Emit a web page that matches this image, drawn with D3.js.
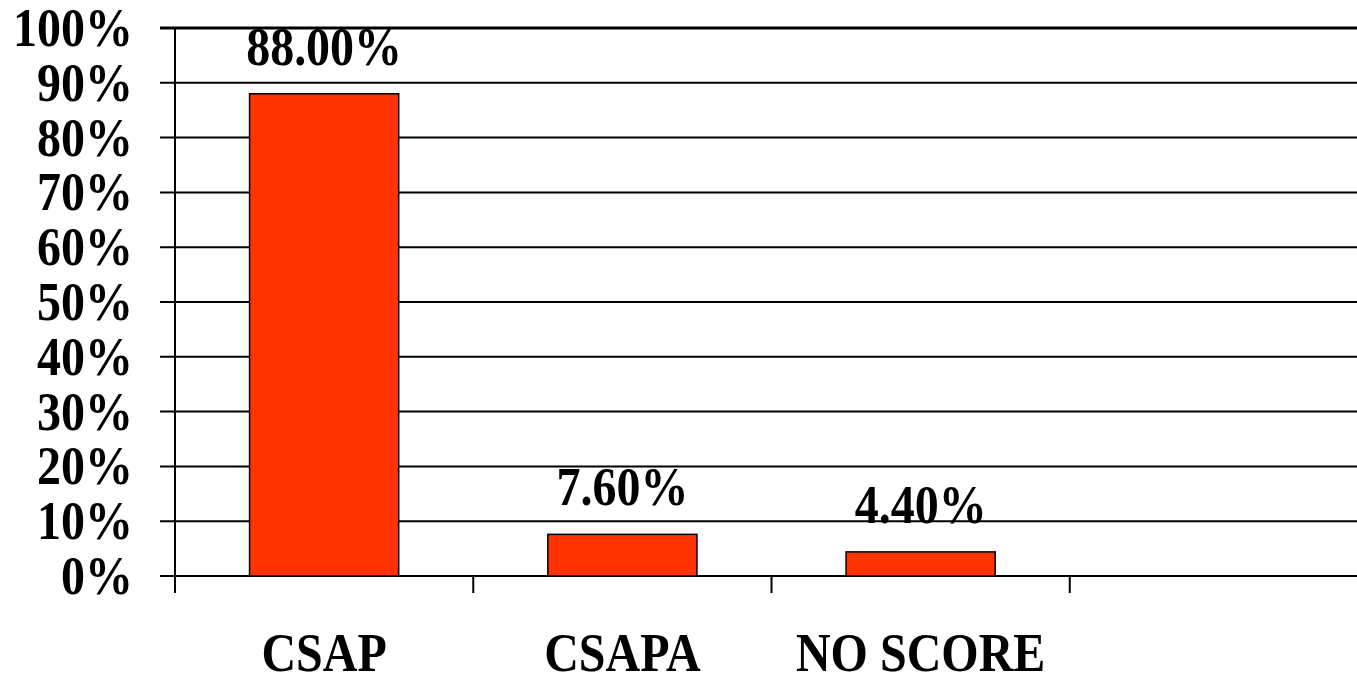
<!DOCTYPE html>
<html>
<head>
<meta charset="utf-8">
<script src="https://cdnjs.cloudflare.com/ajax/libs/d3/7.8.5/d3.min.js"></script>
<style>
  body { margin: 0; background: #fff; }
  svg text { font-family: "Liberation Serif", "Times New Roman", serif; font-weight: bold; fill: #000; }
</style>
</head>
<body>
<div id="chart"></div>
<script>
// data
var categories = ["CSAP", "CSAPA", "NO SCORE", ""];
var values = [88.0, 7.6, 4.4, null];
var yTicks = [0, 10, 20, 30, 40, 50, 60, 70, 80, 90, 100];

var chart = {
    svgWidth: 1357,
    svgHeight: 675,
    margin: {"top": 28, "bottom": 99, "left": 175, "right": -11},
    stretch: 1.15   // the reference text looks vertically stretched
};

chart.svg = d3.select("#chart").append("svg")
    .attr("width", chart.svgWidth)
    .attr("height", chart.svgHeight);

var svg = chart.svg;

chart.yScale = d3.scaleLinear()
    .domain([0, 100])
    .range([chart.svgHeight - chart.margin.bottom, chart.margin.top]);

chart.xScale = d3.scaleBand()
    .domain(categories)
    .range([chart.margin.left, chart.svgWidth - chart.margin.right])
    .paddingInner(0.5)
    .paddingOuter(0.25);

var yScale = chart.yScale;
var xScale = chart.xScale;
var step = xScale.step();

function place(x, y) {
    return "translate(" + x + "," + y + ") scale(1," + chart.stretch + ")";
}

var barData = categories.map((c, i) => ({cat: c, val: values[i]}))
                        .filter(d => d.val != null);

// horizontal gridlines + left tick marks
svg.selectAll("line.grid")
    .data(yTicks)
    .enter().append("line")
    .attr("class", "grid")
    .attr("x1", chart.margin.left - 15)
    .attr("x2", chart.svgWidth)
    .attr("y1", d => yScale(d))
    .attr("y2", d => yScale(d))
    .attr("stroke", "#000")
    .attr("stroke-width", d => d == 100 ? 3 : 2);

// y labels
svg.selectAll("text.ylab")
    .data(yTicks)
    .enter().append("text")
    .attr("class", "ylab")
    .attr("transform", d => place(133, yScale(d) + 18))
    .attr("text-anchor", "end")
    .attr("font-size", 48)
    .text(d => d + "%");

// bars
svg.selectAll("rect.bar")
    .data(barData)
    .enter().append("rect")
    .attr("class", "bar")
    .attr("x", d => xScale(d.cat))
    .attr("width", xScale.bandwidth())
    .attr("y", d => yScale(d.val))
    .attr("height", d => yScale(0) - yScale(d.val))
    .attr("fill", "#ff3300")
    .attr("stroke", "#000")
    .attr("stroke-width", 1.5);

// value labels
svg.selectAll("text.vlab")
    .data(barData)
    .enter().append("text")
    .attr("class", "vlab")
    .attr("transform", d => place(xScale(d.cat) + xScale.bandwidth() / 2,
                                  yScale(d.val) - 29))
    .attr("text-anchor", "middle")
    .attr("font-size", 48)
    .text(d => d.val.toFixed(2) + "%");

// y axis line
svg.append("line")
    .attr("x1", chart.margin.left).attr("x2", chart.margin.left)
    .attr("y1", yScale(100)).attr("y2", yScale(0) + 17)
    .attr("stroke", "#000").attr("stroke-width", 2);

// x axis ticks at band boundaries
svg.selectAll("line.xtick")
    .data(categories)
    .enter().append("line")
    .attr("class", "xtick")
    .attr("x1", d => xScale(d) - step * 0.25)
    .attr("x2", d => xScale(d) - step * 0.25)
    .attr("y1", yScale(0))
    .attr("y2", yScale(0) + 17)
    .attr("stroke", "#000").attr("stroke-width", 2);

// category labels
svg.selectAll("text.xlab")
    .data(categories)
    .enter().append("text")
    .attr("class", "xlab")
    .attr("transform", d => place(xScale(d) + xScale.bandwidth() / 2, 671))
    .attr("text-anchor", "middle")
    .attr("font-size", 48)
    .text(d => d);
</script>
</body>
</html>
